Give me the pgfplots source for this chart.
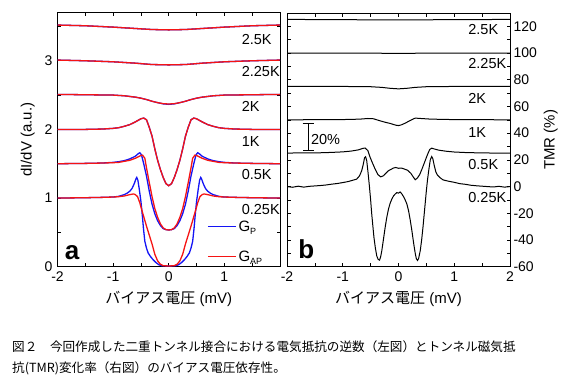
\documentclass[border=0pt]{standalone}
\usepackage{pgfplots}
\pgfplotsset{compat=1.18}
\usepackage{fontspec}
\setmainfont{Liberation Sans}
\newfontfamily\jp{Noto Sans CJK JP}
\definecolor{pblue}{RGB}{20,20,245}
\definecolor{pred}{RGB}{245,20,20}
\pgfplotsset{
  panel/.style={
    scale only axis,
    xmin=-2, xmax=2,
    tick align=inside,
    major tick length=3.5pt, minor tick length=3.5pt,
    every tick/.style={black, line width=0.6pt},
    axis line style={line width=0.8pt},
    ticklabel style={font=\fontsize{14}{16}\selectfont},
    label style={font=\fontsize{15}{17}\selectfont},
    xlabel style={yshift=-3pt},
    /pgf/number format/assume math mode=true,
    clip=true,
  },
}
\begin{document}
\begin{tikzpicture}
\useasboundingbox (0pt,0pt) rectangle (569pt,-381pt);
% ---------------- panel a ----------------
\begin{axis}[panel, at={(57.5pt,-266.7pt)}, anchor=south west,
  width=222.5pt, height=254pt,
  ymin=0, ymax=3.7,
  xtick={-2,-1,0,1,2}, xticklabels={-2,-1,0,1,{}},
  minor xtick={-1.5,-0.5,0.5,1.5},
  ytick={0,1,2,3}, yticklabels={0,1,2,3}, minor ytick={0.5,1.5,2.5,3.5},
  xticklabel style={yshift=-1.5pt},
  yticklabel style={xshift=-1.5pt},
  xlabel={{\jp バイアス電圧} (mV)},
  ylabel={dI/dV (a.u.)},
  ylabel style={yshift=3pt},
  legend style={at={(axis cs:0.689,0.70)}, anchor=north west, draw=none, fill=none,
    font=\fontsize{15}{17}\selectfont, row sep=14pt, inner sep=0pt},
  legend image code/.code={\draw[#1] (0pt,0pt) -- (28pt,0pt);},
  legend cell align=left,
]
% 2.5K
\addplot[pblue, line width=1.3pt, forget plot] coordinates {(-2,3.52) (-1.5,3.51) (-1,3.49) (-0.6,3.47) (-0.3,3.455) (0,3.45) (0.3,3.455) (0.6,3.47) (1,3.49) (1.5,3.51) (2,3.52)};
\addplot[pred, line width=1.3pt, forget plot] coordinates {(-2,3.52) (-1.5,3.51) (-1,3.49) (-0.6,3.47) (-0.3,3.455) (0,3.45) (0.3,3.455) (0.6,3.47) (1,3.49) (1.5,3.51) (2,3.52)};
% 2.25K
\addplot[pblue, line width=1.3pt, forget plot] coordinates {(-2,3.01) (-1.5,3.0) (-1,2.985) (-0.6,2.965) (-0.3,2.945) (0,2.94) (0.3,2.945) (0.6,2.965) (1,2.985) (1.5,3.0) (2,3.01)};
\addplot[pred, line width=1.3pt, forget plot] coordinates {(-2,3.01) (-1.5,3.0) (-1,2.985) (-0.6,2.965) (-0.3,2.945) (0,2.94) (0.3,2.945) (0.6,2.965) (1,2.985) (1.5,3.0) (2,3.01)};
% 2K
\addplot[pblue, line width=1.3pt, forget plot] coordinates {(-2,2.51) (-1.5,2.505) (-1,2.50) (-0.8,2.49) (-0.6,2.47) (-0.5,2.455) (-0.4,2.435) (-0.3,2.41) (-0.2,2.39) (-0.1,2.372) (0,2.365) (0.1,2.372) (0.2,2.39) (0.3,2.41) (0.4,2.435) (0.5,2.455) (0.6,2.47) (0.8,2.49) (1,2.50) (1.5,2.505) (2,2.51)};
\addplot[pred, line width=1.3pt, forget plot] coordinates {(-2,2.51) (-1.5,2.505) (-1,2.50) (-0.8,2.49) (-0.6,2.47) (-0.5,2.455) (-0.4,2.435) (-0.3,2.41) (-0.2,2.39) (-0.1,2.375) (0,2.37) (0.1,2.375) (0.2,2.39) (0.3,2.41) (0.4,2.435) (0.5,2.455) (0.6,2.47) (0.8,2.49) (1,2.50) (1.5,2.505) (2,2.51)};
% 1K
\addplot[pblue, line width=1.3pt, forget plot] coordinates {(-2,2.0) (-1.5,2.0) (-1.2,2.005) (-1,2.015) (-0.9,2.025) (-0.8,2.045) (-0.7,2.07) (-0.6,2.11) (-0.5,2.155) (-0.45,2.165) (-0.4,2.14) (-0.35,2.03) (-0.3,1.90) (-0.25,1.715) (-0.2,1.55) (-0.15,1.415) (-0.1,1.30) (-0.05,1.21) (0,1.18) (0.05,1.21) (0.1,1.30) (0.15,1.415) (0.2,1.55) (0.25,1.715) (0.3,1.90) (0.35,2.03) (0.4,2.14) (0.45,2.165) (0.5,2.155) (0.6,2.11) (0.7,2.07) (0.8,2.045) (0.9,2.025) (1,2.015) (1.2,2.005) (1.5,2.0) (2,2.0)};
\addplot[pred, line width=1.3pt, forget plot] coordinates {(-2,2.0) (-1.5,2.0) (-1.2,2.005) (-1,2.015) (-0.9,2.025) (-0.8,2.045) (-0.7,2.07) (-0.6,2.11) (-0.5,2.155) (-0.45,2.165) (-0.4,2.14) (-0.35,2.03) (-0.3,1.90) (-0.25,1.715) (-0.2,1.55) (-0.15,1.415) (-0.1,1.30) (-0.05,1.21) (0,1.18) (0.05,1.21) (0.1,1.30) (0.15,1.415) (0.2,1.55) (0.25,1.715) (0.3,1.90) (0.35,2.03) (0.4,2.14) (0.45,2.165) (0.5,2.155) (0.6,2.11) (0.7,2.07) (0.8,2.045) (0.9,2.025) (1,2.015) (1.2,2.005) (1.5,2.0) (2,2.0)};
% 0.5K
\addplot[pblue, line width=1.3pt, forget plot] coordinates {(-2,1.5) (-1.5,1.505) (-1.2,1.51) (-1,1.52) (-0.9,1.53) (-0.8,1.545) (-0.7,1.57) (-0.6,1.61) (-0.55,1.645) (-0.52,1.66) (-0.49,1.63) (-0.45,1.50) (-0.4,1.32) (-0.35,1.10) (-0.3,0.91) (-0.25,0.77) (-0.2,0.67) (-0.15,0.60) (-0.1,0.555) (-0.05,0.54) (0,0.535) (0.05,0.54) (0.1,0.555) (0.15,0.60) (0.2,0.67) (0.25,0.77) (0.3,0.91) (0.35,1.10) (0.4,1.32) (0.45,1.50) (0.49,1.63) (0.52,1.66) (0.55,1.645) (0.6,1.61) (0.7,1.57) (0.8,1.545) (0.9,1.53) (1,1.52) (1.2,1.51) (1.5,1.505) (2,1.5)};
\addplot[pred, line width=1.3pt, forget plot] coordinates {(-2,1.5) (-1.5,1.505) (-1.2,1.51) (-1,1.515) (-0.9,1.52) (-0.8,1.535) (-0.7,1.55) (-0.6,1.58) (-0.5,1.62) (-0.47,1.625) (-0.43,1.58) (-0.4,1.44) (-0.35,1.225) (-0.3,1.02) (-0.25,0.845) (-0.2,0.72) (-0.15,0.625) (-0.1,0.565) (-0.05,0.54) (0,0.535) (0.05,0.54) (0.1,0.565) (0.15,0.625) (0.2,0.72) (0.25,0.845) (0.3,1.02) (0.35,1.225) (0.4,1.44) (0.43,1.58) (0.47,1.625) (0.5,1.62) (0.6,1.58) (0.7,1.55) (0.8,1.535) (0.9,1.52) (1,1.515) (1.2,1.51) (1.5,1.505) (2,1.5)};
% 0.25K
\addplot[pblue, line width=1.3pt, forget plot] coordinates {(-2,1.0) (-1.5,1.005) (-1.2,1.01) (-1,1.015) (-0.9,1.025) (-0.8,1.05) (-0.75,1.07) (-0.7,1.10) (-0.66,1.14) (-0.62,1.21) (-0.59,1.28) (-0.575,1.30) (-0.555,1.26) (-0.53,1.13) (-0.5,0.95) (-0.485,0.83) (-0.47,0.70) (-0.455,0.56) (-0.43,0.37) (-0.4,0.27) (-0.37,0.20) (-0.33,0.15) (-0.28,0.10) (-0.23,0.06) (-0.18,0.03) (-0.13,0.015) (0,0.01) (0.13,0.015) (0.18,0.03) (0.23,0.06) (0.28,0.10) (0.33,0.15) (0.37,0.20) (0.4,0.27) (0.43,0.37) (0.455,0.56) (0.47,0.70) (0.485,0.83) (0.5,0.95) (0.53,1.13) (0.555,1.26) (0.575,1.30) (0.59,1.28) (0.62,1.21) (0.66,1.14) (0.7,1.10) (0.75,1.07) (0.8,1.05) (0.9,1.025) (1,1.015) (1.2,1.01) (1.5,1.005) (2,1.0)};
\addplot[pred, line width=1.3pt, forget plot] coordinates {(-2,1.0) (-1.5,1.005) (-1.2,1.01) (-1,1.015) (-0.9,1.02) (-0.8,1.03) (-0.7,1.05) (-0.635,1.06) (-0.6,1.05) (-0.56,1.02) (-0.52,0.93) (-0.486,0.83) (-0.45,0.73) (-0.4,0.59) (-0.35,0.46) (-0.3,0.33) (-0.25,0.18) (-0.2,0.085) (-0.15,0.035) (-0.1,0.015) (0,0.01) (0.1,0.015) (0.15,0.035) (0.2,0.085) (0.25,0.18) (0.3,0.33) (0.35,0.46) (0.4,0.59) (0.45,0.73) (0.486,0.83) (0.52,0.93) (0.56,1.02) (0.6,1.05) (0.635,1.06) (0.7,1.05) (0.8,1.03) (0.9,1.02) (1,1.015) (1.2,1.01) (1.5,1.005) (2,1.0)};
\addlegendimage{pblue, line width=1.3pt}
\addlegendentry{G\raisebox{-3.5pt}{\fontsize{9}{9}\selectfont P}}
\addlegendimage{pred, line width=1.3pt}
\addlegendentry{G\raisebox{-3.5pt}{\fontsize{9}{9}\selectfont AP}}
\begin{scope}[font=\fontsize{14.5}{16}\selectfont]
\node[anchor=west] at (axis cs:1.25,3.31) {2.5K};
\node[anchor=west] at (axis cs:1.25,2.85) {2.25K};
\node[anchor=west] at (axis cs:1.25,2.33) {2K};
\node[anchor=west] at (axis cs:1.25,1.82) {1K};
\node[anchor=west] at (axis cs:1.25,1.34) {0.5K};
\node[anchor=west] at (axis cs:1.25,0.84) {0.25K};
\end{scope}
\node[anchor=base west, inner sep=0pt, font=\fontsize{26}{26}\selectfont\bfseries] at (axis cs:-1.87,0.1) {a};
\end{axis}
% ---------------- panel b ----------------
\begin{axis}[panel, at={(287pt,-266.7pt)}, anchor=south west,
  width=223pt, height=253.7pt,
  ymin=-60, ymax=130,
  xtick={-2,-1,0,1,2}, xticklabels={-2,-1,0,1,2},
  minor xtick={-1.5,-0.5,0.5,1.5},
  xticklabel style={yshift=-1.5pt},
  ytick={-60,-40,-20,0,20,40,60,80,100,120},
  yticklabels={-60,-40,-20,0,20,40,60,80,100,120},
  minor ytick={-50,-30,-10,10,30,50,70,90,110},
  yticklabel pos=right, ylabel near ticks,
  xlabel={{\jp バイアス電圧} (mV)},
  ylabel={TMR (\%)},
  ylabel style={font=\fontsize{15}{17}\selectfont},
]
\addplot[black, line width=1pt] coordinates {(-2,125.2) (-1.5,125.1) (-1,125) (-0.5,124.9) (0,124.8) (0.5,124.9) (1,125.1) (1.5,125.1) (2,125.2)};
\addplot[black, line width=1pt] coordinates {(-2,100) (-1,100) (0,99.8) (1,100) (2,100)};
\addplot[black, line width=1pt] coordinates {(-2,75) (-1,75) (-0.5,74.8) (-0.3,74.3) (-0.15,73.6) (0,73.2) (0.15,73.6) (0.3,74.3) (0.5,74.8) (1,75) (2,75)};
\addplot[black, line width=1pt] coordinates {(-2,50) (-1.5,50.1) (-1,50.2) (-0.7,50.5) (-0.55,51) (-0.45,50.8) (-0.35,49.5) (-0.25,48.3) (-0.15,47.3) (-0.05,46) (0,45.7) (0.05,46.2) (0.12,47.5) (0.2,49.3) (0.3,51.3) (0.4,51.0) (0.55,50.6) (0.8,50.3) (1,50.2) (1.5,50.1) (2,50)};
\addplot[black, line width=1pt] coordinates {(-2,25) (-1.8,25.3) (-1.5,25.2) (-1.2,25.6) (-1,26) (-0.85,26.6) (-0.72,27.5) (-0.64,28.6) (-0.6,28.9) (-0.55,27) (-0.51,22) (-0.46,17) (-0.42,13.2) (-0.37,9) (-0.32,7.3) (-0.27,8.1) (-0.22,10.3) (-0.18,11.9) (-0.13,13) (-0.09,13.9) (-0.05,14.3) (0,13.7) (0.05,13.9) (0.1,13.2) (0.16,12.3) (0.22,10) (0.26,7.5) (0.3,5.1) (0.34,6.5) (0.38,9) (0.42,13) (0.47,18.5) (0.52,24) (0.56,27.8) (0.595,28.8) (0.64,28.2) (0.72,27.3) (0.85,26.5) (1,25.9) (1.2,25.5) (1.5,25.2) (1.8,25.1) (2,25)};
\addplot[black, line width=1pt] coordinates {(-2,0) (-1.9,-0.5) (-1.8,0.3) (-1.7,-0.4) (-1.6,0.2) (-1.5,0.5) (-1.4,0.8) (-1.3,1.2) (-1.2,1.8) (-1.1,2.3) (-1.0,3.0) (-0.9,3.8) (-0.8,5.0) (-0.75,5.6) (-0.7,8) (-0.66,11.9) (-0.63,17) (-0.61,21.5) (-0.59,22.3) (-0.57,19.4) (-0.545,10) (-0.52,-0.6) (-0.5,-10) (-0.48,-20.6) (-0.46,-29.5) (-0.44,-38.2) (-0.415,-46) (-0.39,-51.9) (-0.365,-54.5) (-0.34,-55.1) (-0.32,-52.5) (-0.30,-48.2) (-0.27,-39.5) (-0.24,-30.7) (-0.21,-23) (-0.18,-16.9) (-0.15,-12.5) (-0.12,-9.4) (-0.09,-7) (-0.06,-5.6) (-0.03,-4.5) (0,-4.9) (0.03,-4) (0.06,-5.5) (0.09,-7.5) (0.12,-10) (0.15,-13) (0.18,-18) (0.21,-25) (0.24,-33) (0.27,-42) (0.30,-50) (0.32,-54) (0.34,-55.3) (0.36,-54) (0.39,-48) (0.415,-40) (0.44,-30) (0.46,-21) (0.48,-12) (0.5,-3) (0.52,5) (0.545,13) (0.57,20) (0.595,22.5) (0.615,21) (0.64,16) (0.67,11) (0.7,8.5) (0.75,6.5) (0.8,5) (0.9,4) (1.0,3.2) (1.1,2.2) (1.2,1.7) (1.3,1) (1.4,0.6) (1.5,0.3) (1.6,0) (1.7,-0.3) (1.8,0.2) (1.9,-0.4) (2,0)};
% 20% scale bar
\addplot[black, line width=1.2pt, mark=none, error bars/.cd, y dir=both, y explicit,
  error mark=-, error bar style={line width=1.2pt},
  error mark options={rotate=90, mark size=5.5pt, line width=1.2pt}]
  coordinates {(-1.62,37.2) +- (0,10)};
\begin{scope}[font=\fontsize{14.5}{16}\selectfont]
\node[anchor=west, inner sep=1pt] at (axis cs:-1.59,35) {20\%};
\node[anchor=west] at (axis cs:1.19,117.5) {2.5K};
\node[anchor=west] at (axis cs:1.19,92) {2.25K};
\node[anchor=west] at (axis cs:1.19,66) {2K};
\node[anchor=west] at (axis cs:1.19,40.6) {1K};
\node[anchor=west] at (axis cs:1.19,16.8) {0.5K};
\node[anchor=west] at (axis cs:1.19,-8.2) {0.25K};
\end{scope}
\node[anchor=base west, inner sep=0pt, font=\fontsize{26}{26}\selectfont\bfseries] at (axis cs:-1.8,-54) {b};
\end{axis}
% caption
\begin{scope}[font=\jp\fontsize{12.6}{14}\selectfont]
\node[anchor=west, inner sep=0pt] at (12pt,-346.7pt) {図２　今回作成した二重トンネル接合における電気抵抗の逆数（左図）とトンネル磁気抵};
\node[anchor=west, inner sep=0pt] at (12pt,-368.3pt) {抗(TMR)変化率（右図）のバイアス電圧依存性。};
\end{scope}
\end{tikzpicture}
\end{document}
